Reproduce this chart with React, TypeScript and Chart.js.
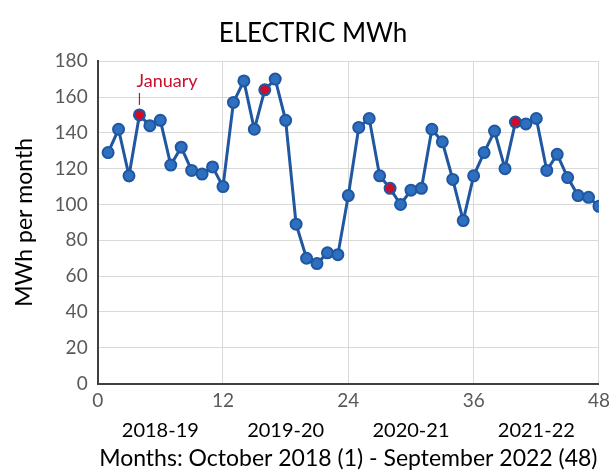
import React, { useEffect, useRef } from "react";
import { Chart, registerables } from "chart.js";

Chart.register(...registerables);

const months: number[] = Array.from({ length: 48 }, (_, i) => i + 1);
const mwh: number[] = [
  129, 142, 116, 150, 144, 147, 122, 132, 119, 117, 121, 110,
  157, 169, 142, 164, 170, 147, 89, 70, 67, 73, 72, 105,
  143, 148, 116, 109, 100, 108, 109, 142, 135, 114, 91, 116,
  129, 141, 120, 146, 145, 148, 119, 128, 115, 105, 104, 99,
];
const januaryMonths: number[] = [4, 16, 28, 40];
const yearLabels: string[] = ["2018-19", "2019-20", "2020-21", "2021-22"];
const yearCenters: number[] = [6, 18, 30, 42];
const xTicks: number[] = [0, 12, 24, 36, 48];

const FONT = "Lato, 'Open Sans', sans-serif";
const BLUE_LINE = "#1f57a0";
const BLUE_FILL = "#2f6fc0";
const RED = "#c8102e";

const annotationPlugin = {
  id: "januaryNote",
  afterDatasetsDraw(chart: any) {
    const { ctx, scales } = chart;
    const x = scales.x.getPixelForValue(4);
    const y = scales.y.getPixelForValue(150);
    ctx.save();
    ctx.fillStyle = RED;
    ctx.strokeStyle = RED;
    ctx.font = `18px ${FONT}`;
    ctx.textAlign = "left";
    ctx.textBaseline = "alphabetic";
    ctx.fillText("January", x - 3, y - 28);
    ctx.lineWidth = 1.2;
    ctx.beginPath();
    ctx.moveTo(x, y - 22);
    ctx.lineTo(x, y - 10);
    ctx.stroke();
    ctx.restore();
  },
};

export default function App() {
  const ref = useRef<HTMLCanvasElement | null>(null);
  useEffect(() => {
    if (!ref.current) return;
    const data = months.map((m, i) => ({ x: m, y: mwh[i] }));
    const chart = new Chart(ref.current, {
      type: "line",
      data: {
        datasets: [
          {
            data,
            borderColor: BLUE_LINE,
            borderWidth: 3,
            pointRadius: 5.5,
            pointBorderWidth: 2,
            pointBorderColor: BLUE_LINE,
            pointBackgroundColor: months.map((m) =>
              januaryMonths.includes(m) ? RED : BLUE_FILL
            ),
            tension: 0,
            xAxisID: "x",
          },
        ],
      },
      options: {
        animation: false,
        responsive: true,
        maintainAspectRatio: false,
        layout: { padding: { top: 2, right: 1, left: 11, bottom: 0 } },
        plugins: {
          legend: { display: false },
          tooltip: { enabled: false },
          title: {
            display: true,
            text: "ELECTRIC MWh",
            color: "#000",
            font: { family: FONT, size: 26, weight: "normal" },
            padding: { top: 16, bottom: 12 },
          },
        },
        scales: {
          x: {
            type: "linear",
            position: "bottom",
            min: 0,
            max: 48,
            weight: 1,
            afterBuildTicks: (axis: any) => {
              axis.ticks = xTicks.map((v) => ({ value: v }));
            },
            ticks: {
              color: "#595959",
              font: { family: FONT, size: 19 },
              padding: 6,
              maxRotation: 0,
            },
            grid: { color: "#d9d9d9", drawTicks: false },
            border: { color: "#404040", width: 2 },
          },
          x2: {
            type: "linear",
            position: "bottom",
            min: 0,
            max: 48,
            weight: 2,
            afterBuildTicks: (axis: any) => {
              axis.ticks = yearCenters.map((v) => ({ value: v }));
            },
            ticks: {
              color: "#000",
              font: { family: FONT, size: 20 },
              padding: 0,
              maxRotation: 0,
              autoSkip: false,
              callback: (v: any) => {
                const i = yearCenters.indexOf(Number(v));
                return i >= 0 ? yearLabels[i] : "";
              },
            },
            grid: { display: false, drawTicks: false },
            border: { display: false },
            title: {
              display: true,
              text: "Months: October 2018 (1) - September 2022 (48)",
              color: "#000",
              font: { family: FONT, size: 23 },
              padding: { top: 2, bottom: 0 },
            },
          },
          y: {
            min: 0,
            max: 180,
            ticks: {
              stepSize: 20,
              color: "#595959",
              font: { family: FONT, size: 19 },
              padding: 10,
            },
            grid: { color: "#d9d9d9", drawTicks: false },
            border: { color: "#404040", width: 2 },
            title: {
              display: true,
              text: "MWh per month",
              color: "#000",
              font: { family: FONT, size: 23 },
              padding: { top: 0, bottom: 6 },
            },
          },
        },
      },
      plugins: [annotationPlugin],
    } as any);
    return () => chart.destroy();
  }, []);
  return (
    <div style={{ position: "fixed", left: 0, top: 0, width: 616, height: 472, background: "#fff" }}>
      <canvas ref={ref} />
    </div>
  );
}
